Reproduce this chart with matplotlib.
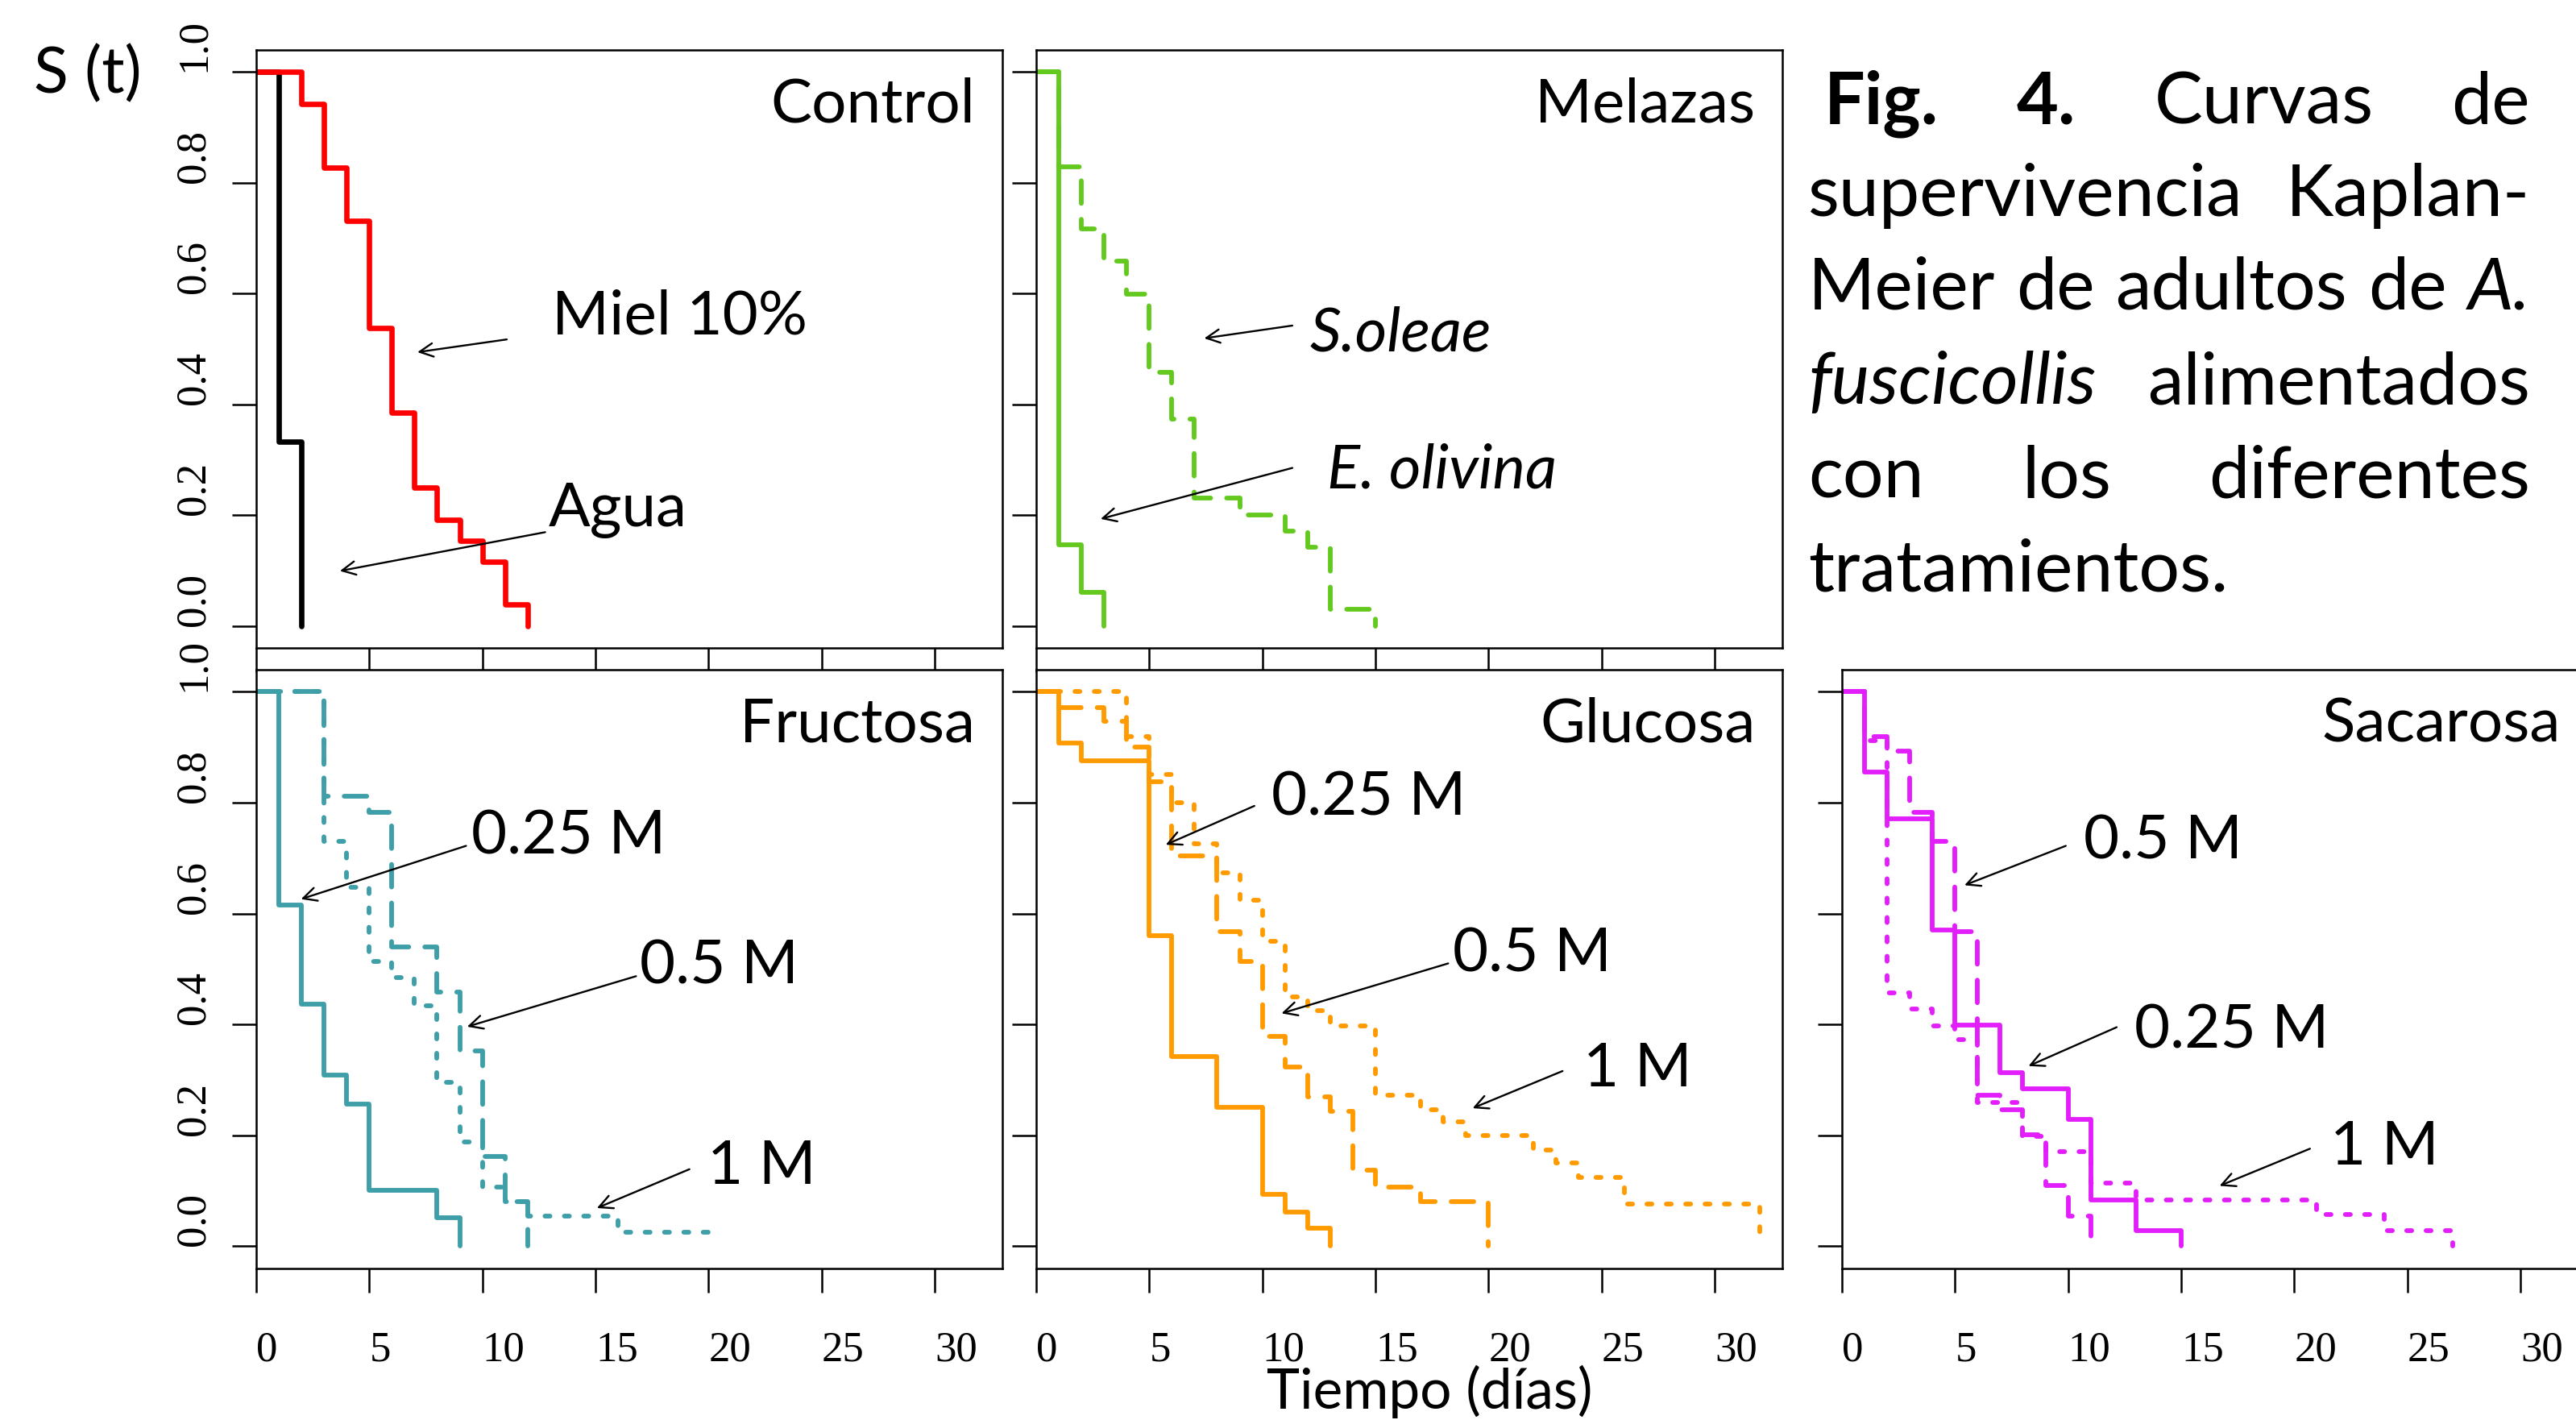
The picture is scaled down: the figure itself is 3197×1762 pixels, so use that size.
import matplotlib
matplotlib.use("Agg")
import matplotlib.pyplot as plt

# ---------------- data (Kaplan-Meier steps: drop times and survival) -------------
x_ticks = [0, 5, 10, 15, 20, 25, 30]
y_ticks = [0.0, 0.2, 0.4, 0.6, 0.8, 1.0]
y_tick_labels = ["0.0", "0.2", "0.4", "0.6", "0.8", "1.0"]

# Control
agua_t = [0, 1, 2]
agua_s = [1, 0.333, 0]
miel_t = [0, 2, 3, 4, 5, 6, 7, 8, 9, 10, 11, 12]
miel_s = [1, 0.942, 0.827, 0.731, 0.538, 0.385, 0.250, 0.192, 0.154, 0.115, 0.038, 0]

# Melazas
eoli_t = [0, 1, 2, 3]
eoli_s = [1, 0.146, 0.060, 0]
sole_t = [0, 1, 2, 3, 4, 5, 6, 7, 9, 11, 12, 13, 15]
sole_s = [1, 0.829, 0.716, 0.658, 0.598, 0.458, 0.373, 0.231, 0.200, 0.171, 0.142, 0.030, 0]

# Fructosa
fru025_t = [0, 1, 2, 3, 4, 5, 8, 9]
fru025_s = [1, 0.616, 0.436, 0.309, 0.256, 0.101, 0.052, 0]
fru05_t = [0, 3, 5, 6, 8, 9, 10, 11, 12]
fru05_s = [1, 0.811, 0.783, 0.540, 0.458, 0.353, 0.162, 0.080, 0]
fru1_t = [0, 3, 4, 5, 6, 7, 8, 9, 10, 11, 12, 16, 20]
fru1_s = [1, 0.730, 0.647, 0.514, 0.485, 0.433, 0.296, 0.188, 0.107, 0.080, 0.054, 0.025, 0]

# Glucosa
glu025_t = [0, 1, 2, 5, 6, 8, 10, 11, 12, 13]
glu025_s = [1, 0.907, 0.876, 0.560, 0.342, 0.251, 0.093, 0.061, 0.033, 0]
glu05_t = [0, 1, 3, 4, 5, 6, 8, 9, 10, 11, 12, 13, 14, 15, 17, 20]
glu05_s = [1, 0.972, 0.946, 0.900, 0.837, 0.704, 0.567, 0.513, 0.378, 0.323, 0.270,
           0.244, 0.137, 0.107, 0.080, 0]
glu1_t = [0, 4, 5, 6, 7, 8, 9, 10, 11, 12, 13, 15, 17, 18, 19, 22, 23, 24, 26, 32]
glu1_s = [1, 0.919, 0.850, 0.800, 0.725, 0.673, 0.624, 0.550, 0.450, 0.425, 0.398,
          0.273, 0.246, 0.224, 0.200, 0.174, 0.151, 0.124, 0.076, 0]

# Sacarosa
sac025_t = [0, 1, 2, 4, 5, 7, 8, 10, 11, 13, 15]
sac025_s = [1, 0.855, 0.771, 0.570, 0.399, 0.313, 0.284, 0.229, 0.084, 0.028, 0]
sac05_t = [0, 1, 2, 3, 4, 5, 6, 7, 8, 9, 10, 11]
sac05_s = [1, 0.919, 0.893, 0.783, 0.730, 0.568, 0.272, 0.246, 0.201, 0.109, 0.054, 0]
sac1_t = [0, 1, 2, 3, 4, 5, 6, 8, 9, 11, 13, 21, 24, 27]
sac1_s = [1, 0.912, 0.457, 0.428, 0.397, 0.372, 0.259, 0.199, 0.171, 0.114, 0.084,
          0.058, 0.029, 0]

panel_names = ["Control", "Melazas", "Fructosa", "Glucosa", "Sacarosa"]

# ---------------- figure / layout ----------------
W, H, DPI = 3197, 1762, 100
fig = plt.figure(figsize=(W / DPI, H / DPI), dpi=DPI)
fig.patch.set_facecolor("white")

SANS = ["Lato", "DejaVu Sans"]
SERIF = ["Liberation Serif", "DejaVu Serif"]


def px_rect(x0, y0, x1, y1):
    return [x0 / W, 1 - y1 / H, (x1 - x0) / W, (y1 - y0) / H]


ax_ctrl = fig.add_axes(px_rect(318, 61.7, 1244, 804))
ax_mel = fig.add_axes(px_rect(1286, 61.7, 2212, 804))
ax_fru = fig.add_axes(px_rect(318, 830.7, 1244, 1574))
ax_glu = fig.add_axes(px_rect(1286, 830.7, 2212, 1574))
ax_sac = fig.add_axes(px_rect(2286, 830.7, 3212, 1574))

axes = [ax_ctrl, ax_mel, ax_fru, ax_glu, ax_sac]
TICKFS = 38
for i, ax in enumerate(axes):
    ax.set_xlim(0, 33)
    ax.set_ylim(-0.04, 1.04)
    for sp in ax.spines.values():
        sp.set_linewidth(1.8)
    ax.set_xticks(x_ticks)
    ax.set_yticks(y_ticks)
    ax.tick_params(direction="out", length=21.6, width=1.8, colors="black")
    bottom_row = ax in (ax_fru, ax_glu, ax_sac)
    left_col = ax in (ax_ctrl, ax_fru)
    if bottom_row:
        ax.set_xticklabels([str(v) for v in x_ticks], ha="left",
                           fontsize=TICKFS, family=SERIF)
        ax.tick_params(axis="x", pad=34)
    else:
        ax.tick_params(axis="x", labelbottom=False)
    if left_col:
        ax.set_yticklabels(y_tick_labels, rotation=90, va="bottom", ha="right",
                           fontsize=TICKFS, family=SERIF)
        ax.tick_params(axis="y", pad=17)
    else:
        ax.tick_params(axis="y", labelleft=False)

RED, BLACK = "#FF0000", "#000000"
GREEN = "#63C91E"
TEAL = "#3E9FA8"
ORANGE = "#FF9A00"
MAGENTA = "#E21EFA"

LW = 4.2
DASHED = (4.8, 3.4)
DOTTED = (1.06, 3.06)


def km(ax, t, s, color, style="solid", lw=LW):
    kw = dict(where="post", color=color, lw=lw, solid_capstyle="round",
              solid_joinstyle="round", dash_capstyle="round", dash_joinstyle="round")
    if style == "dashed":
        kw["dashes"] = DASHED
    elif style == "dotted":
        kw["dashes"] = DOTTED
    ax.step(t, s, **kw)


km(ax_ctrl, agua_t, agua_s, BLACK, lw=4.8)
km(ax_ctrl, miel_t, miel_s, RED, lw=4.8)

km(ax_mel, eoli_t, eoli_s, GREEN)
km(ax_mel, sole_t, sole_s, GREEN, "dashed")

km(ax_fru, fru025_t, fru025_s, TEAL)
km(ax_fru, fru05_t, fru05_s, TEAL, "dashed")
km(ax_fru, fru1_t, fru1_s, TEAL, "dotted")

km(ax_glu, glu025_t, glu025_s, ORANGE)
km(ax_glu, glu05_t, glu05_s, ORANGE, "dashed")
km(ax_glu, glu1_t, glu1_s, ORANGE, "dotted")

km(ax_sac, sac025_t, sac025_s, MAGENTA)
km(ax_sac, sac05_t, sac05_s, MAGENTA, "dashed")
km(ax_sac, sac1_t, sac1_s, MAGENTA, "dotted")

# ---------------- panel names ----------------
LBLFS = 55
for ax, name in zip(axes, panel_names):
    ax.text(31.8, 0.91, name, ha="right", va="baseline", fontsize=LBLFS, family=SANS)


def label(ax, txt, pos, tail, head, style="normal"):
    ax.text(pos[0], pos[1], txt, ha="left", va="baseline", fontsize=LBLFS,
            family=SANS, style=style)
    ax.annotate("", xy=head, xytext=tail,
                arrowprops=dict(arrowstyle="->", lw=1.7, color="black",
                                shrinkA=0, shrinkB=0, mutation_scale=30))


label(ax_ctrl, "Miel 10%", (13.07, 0.526), (11.08, 0.517), (7.13, 0.494))
label(ax_ctrl, "Agua", (12.93, 0.179), (12.78, 0.169), (3.7, 0.099))

label(ax_mel, "S.oleae", (12.1, 0.496), (11.33, 0.542), (7.43, 0.519), style="italic")
label(ax_mel, "E. olivina", (12.88, 0.249), (11.33, 0.285), (2.85, 0.193), style="italic")

label(ax_fru, "0.25 M", (9.51, 0.707), (9.28, 0.722), (1.98, 0.626))
label(ax_fru, "0.5 M", (16.96, 0.474), (16.8, 0.487), (9.33, 0.396))
label(ax_fru, "1 M", (19.96, 0.112), (19.16, 0.139), (15.07, 0.069))

label(ax_glu, "0.25 M", (10.4, 0.778), (9.65, 0.794), (5.73, 0.724))
label(ax_glu, "0.5 M", (18.44, 0.496), (18.22, 0.51), (10.85, 0.42))
label(ax_glu, "1 M", (24.2, 0.288), (23.28, 0.316), (19.3, 0.249))

label(ax_sac, "0.5 M", (10.7, 0.699), (9.9, 0.722), (5.42, 0.651))
label(ax_sac, "0.25 M", (12.95, 0.358), (12.15, 0.395), (8.25, 0.325))
label(ax_sac, "1 M", (21.6, 0.148), (20.7, 0.176), (16.7, 0.109))

# ---------------- figure texts ----------------
fig.text(42 / W, 1 - 115 / H, "S (t)", ha="left", va="baseline", fontsize=57, family=SANS)
fig.text(1774 / W, 1 - 1748 / H, "Tiempo (días)", ha="center", va="baseline",
         fontsize=50, family=SANS)

# ---------------- justified caption ----------------
caption_lines = [
    [("Fig.", "normal", "bold"), ("4.", "normal", "bold"), ("Curvas", "normal", "normal"),
     ("de", "normal", "normal")],
    [("supervivencia", "normal", "normal"), ("Kaplan-", "normal", "normal")],
    [("Meier", "normal", "normal"), ("de", "normal", "normal"), ("adultos", "normal", "normal"),
     ("de", "normal", "normal"), ("A.", "italic", "normal")],
    [("fuscicollis", "italic", "normal"), ("alimentados", "normal", "normal")],
    [("con", "normal", "normal"), ("los", "normal", "normal"), ("diferentes", "normal", "normal")],
    [("tratamientos.", "normal", "normal")],
]
cap_baselines = [153, 268, 384, 501, 617, 733]
cap_left = [2264, 2244, 2244, 2244, 2244, 2244]
cap_right = 3140
cap_justify = [True, True, True, True, True, False]

renderer = fig.canvas.get_renderer()


def text_w(s, style, weight, size):
    t = fig.text(0, 0, s, fontsize=size, family=SANS, style=style, weight=weight)
    w = t.get_window_extent(renderer).width
    t.remove()
    return w


ref = caption_lines[2]
sp10 = text_w("x x", "normal", "normal", 10) - text_w("xx", "normal", "normal", 10)
nat10 = sum(text_w(w, s, b, 10) for w, s, b in ref) + sp10 * (len(ref) - 1)
CAPFS = 10 * (3131 - 2244) / nat10
space_w = sp10 * CAPFS / 10

for words, yb, xl, just in zip(caption_lines, cap_baselines, cap_left, cap_justify):
    widths = [text_w(w, s, b, CAPFS) for w, s, b in words]
    if just and len(words) > 1:
        gap = (cap_right - xl - sum(widths)) / (len(words) - 1)
    else:
        gap = space_w
    x = xl
    for (w, s, b), wd in zip(words, widths):
        fig.text(x / W, 1 - yb / H, w, ha="left", va="baseline", fontsize=CAPFS,
                 family=SANS, style=s, weight=b)
        x += wd + gap

fig.savefig("out.png", dpi=DPI, facecolor="white")
